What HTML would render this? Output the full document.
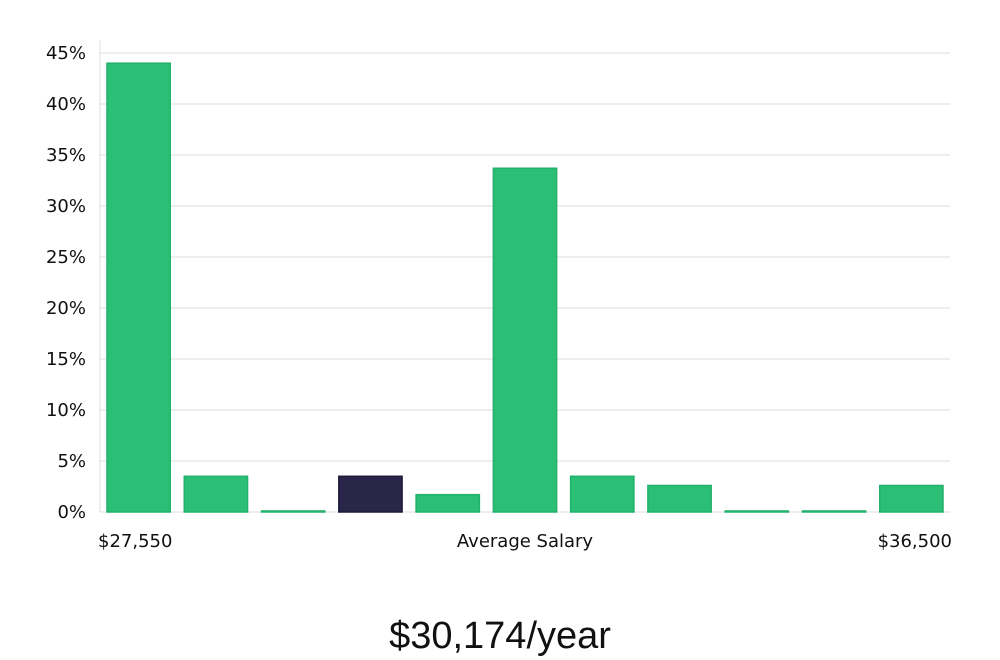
<!DOCTYPE html>
<html><head><meta charset="utf-8"><style>
body{margin:0;background:#fff;width:1000px;height:660px;overflow:hidden}
svg{display:block}
</style></head><body>
<svg id="chart" width="1000" height="660" xmlns="http://www.w3.org/2000/svg" font-family="DejaVu Sans, Liberation Sans, sans-serif">
<g id="grid"></g>
<g id="yaxis"></g>
<g id="bars"></g>
<text x="98" y="547" font-size="18" fill="#111">$27,550</text>
<text x="525" y="547" font-size="18" fill="#111" text-anchor="middle">Average Salary</text>
<text x="952" y="547" font-size="18" fill="#111" text-anchor="end">$36,500</text>
<text x="500" y="648" font-size="38" fill="#111" text-anchor="middle" font-family="Liberation Sans, sans-serif">$30,174/year</text>
</svg>
<script>
const values=[44,3.5,0.1,3.5,1.7,33.7,3.5,2.6,0.1,0.1,2.6];
const highlight=[false,false,false,true,false,false,false,false,false,false,false];
const ticks=[0,5,10,15,20,25,30,35,40,45];
const NS="http://www.w3.org/2000/svg";
const x0=100,x1=950,yBase=512,pxPerUnit=10.2;
const y=v=>yBase-v*pxPerUnit;
const slot=(x1-x0)/values.length;
const grid=document.getElementById('grid'),ya=document.getElementById('yaxis'),bars=document.getElementById('bars');
ticks.forEach(t=>{
 const l=document.createElementNS(NS,'line');
 
 
 l.setAttribute('x1',x0);l.setAttribute('x2',x1);l.setAttribute('y1',y(t));l.setAttribute('y2',y(t));
 l.setAttribute('stroke','#dcdcdc');l.setAttribute('stroke-width','1');
 grid.appendChild(l);
 const tx=document.createElementNS(NS,'text');
 
 
 tx.setAttribute('x',86);tx.setAttribute('y',y(t)+6);tx.setAttribute('text-anchor','end');
 tx.setAttribute('font-size','18');tx.setAttribute('fill','#111');
 tx.textContent=t+'%';ya.appendChild(tx);
});
const ax=document.createElementNS(NS,'line');


ax.setAttribute('x1',x0);ax.setAttribute('x2',x0);ax.setAttribute('y1',40);ax.setAttribute('y2',yBase);
ax.setAttribute('stroke','#dcdcdc');ya.appendChild(ax);
values.forEach((v,i)=>{
 const r=document.createElementNS(NS,'rect');
 
 
 const bx=x0+i*slot+7,bw=slot-14;
 r.setAttribute('x',bx);r.setAttribute('width',bw);
 r.setAttribute('y',y(v));r.setAttribute('height',Math.max(1,v*pxPerUnit));
 r.setAttribute('fill',highlight[i]?'#29264a':'#2bbf76');
 r.setAttribute('stroke',highlight[i]?'#1c1a3a':'#22b06a');r.setAttribute('stroke-width','1.5');
 bars.appendChild(r);
});
</script>
</body></html>
